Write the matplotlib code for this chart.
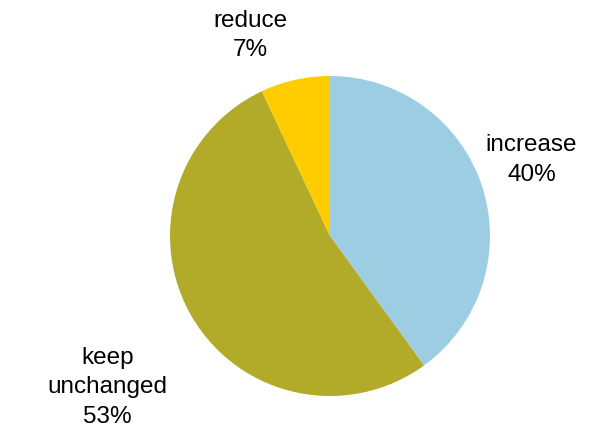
import matplotlib
matplotlib.use('Agg')
from matplotlib import pyplot

categories = ['increase', 'keep\nunchanged', 'reduce']
shares = [40, 53, 7]
colors = ['#9DCDE3', '#B2AA29', '#FFCC00']
# label centres, in units of pie radius
label_pos = [(1.26, 0.48), (-1.39, -0.94), (-0.50, 1.26)]

pyplot.rcParams['font.family'] = ['Liberation Sans', 'DejaVu Sans']

fig = pyplot.figure(figsize=(5.96, 4.35), dpi=100)
ax = fig.add_axes([170 / 596, 38 / 435, 320 / 596, 320 / 435])
ax.pie(shares, colors=colors, startangle=90, counterclock=False,
       radius=1, wedgeprops=dict(linewidth=0))
for name, val, (x, y) in zip(categories, shares, label_pos):
  ax.text(x, y, f'{name}\n{val}%', ha='center', va='center',
          fontsize=17.5, linespacing=1.45, color='black')
ax.set_xlim(-1, 1)
ax.set_ylim(-1, 1)
ax.set_aspect('equal')
ax.axis('off')

fig.savefig('out.png', dpi=100)
